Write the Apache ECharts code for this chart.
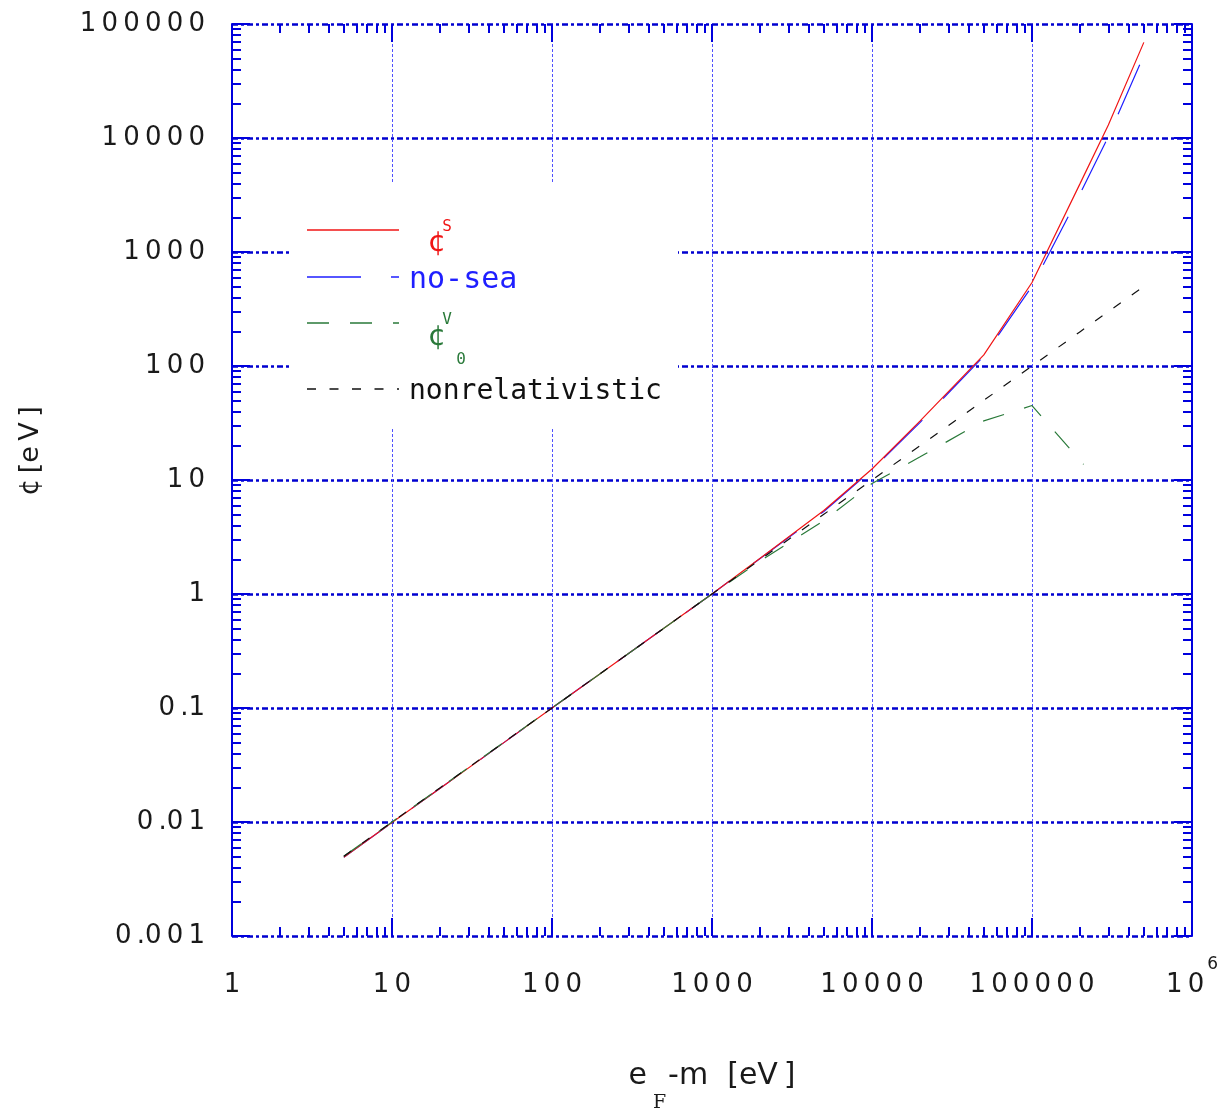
<!DOCTYPE html>
<html>
<head>
<meta charset="utf-8">
<script src="https://cdn.jsdelivr.net/npm/echarts@6/dist/echarts.min.js"></script>
<style>
html,body{margin:0;padding:0;background:#fff}
#chart{width:1229px;height:1113px}
</style>
</head>
<body>
<div id="chart"></div>
<script>
// Kinetic energy above the mass, e_F - m [eV]
const energy = [5, 10, 20, 50, 100, 200, 500, 1000, 2000, 5000, 10000, 20000, 50000, 100000, 200000, 300000, 500000];
// scalar self-energy
const sigmaS = [0.0049, 0.0099, 0.0198, 0.0497, 0.1, 0.2, 0.5, 1.0, 2.06, 5.4, 12.5, 33, 125, 540, 4000, 13000, 69000];
// no-sea approximation
const noSea = [0.0049, 0.0099, 0.0198, 0.0497, 0.1, 0.2, 0.5, 1.0, 2.05, 5.3, 12.3, 32, 122, 500, 3250, 10300, 53000];
// vector self-energy (time component)
const energyV = [5, 10, 20, 50, 100, 200, 500, 1000, 2000, 5000, 10000, 20000, 50000, 100000, 210000];
const sigmaV0 = [0.005, 0.01, 0.02, 0.05, 0.1, 0.2, 0.5, 1.0, 1.95, 4.4, 9.3, 16, 33, 45, 13.7];
// nonrelativistic result
const nonRel = [0.005, 0.01, 0.02, 0.05, 0.1, 0.2, 0.5, 1, 2, 5, 10, 20, 50, 100, 200, 300, 500];

// axis decades
const xTicks = [1, 10, 100, 1000, 10000, 100000, 1000000];
const yTicks = [0.001, 0.01, 0.1, 1, 10, 100, 1000, 10000, 100000];

// 2..9 subdivisions of each decade
function minorTicks(decades) {
  const out = [];
  for (let i = 0; i < decades.length - 1; i++) {
    for (let k = 2; k <= 9; k++) out.push(Number((decades[i] * k).toPrecision(6)));
  }
  return out;
}
const xMinor = minorTicks(xTicks);
const yMinor = minorTicks(yTicks);

const TS = '\u2009';
function spaced(v) {
  const s = String(Number(Number(v).toPrecision(6)));
  return s.split('').join(TS).replace('.' + TS, '.');
}

const BLUE_AX = '#0000dd';
const labelFont = 'DejaVu Sans';
const RED = '#f01515', BLUE = '#1f1fff', GREEN = '#2a7a3a', BLACK = '#111111';

function tickAxis(pos, min, max, values, len, extra) {
  return Object.assign({
    type: 'log', logBase: 10, min: min, max: max, position: pos, gridIndex: 0,
    axisLine: { show: false, onZero: false },
    axisTick: { show: true, inside: true, length: len, customValues: values,
      lineStyle: { color: BLUE_AX, width: 2 } },
    axisLabel: { show: false },
    splitLine: { show: false }
  }, extra || {});
}

const chart = echarts.init(document.getElementById('chart'));
chart.setOption({
  backgroundColor: '#fff',
  animation: false,
  grid: { left: 232, top: 24, width: 960, height: 912, containLabel: false, outerBoundsMode: 'none' },
  xAxis: [
    tickAxis('bottom', 1, 1e6, xTicks, 18, {
      axisLabel: {
        show: true, customValues: xTicks, margin: 20,
        color: '#1a1a1a', fontFamily: labelFont, fontSize: 26,
        formatter: function (v) {
          const n = Number(Number(v).toPrecision(6));
          if (n === 1e6) return '{n|1' + TS + '0}{s|6}';
          return '{n|' + spaced(n) + '}';
        },
        rich: {
          n: { fontFamily: labelFont, fontSize: 26, lineHeight: 58, color: '#1a1a1a' },
          s: { fontFamily: labelFont, fontSize: 17, lineHeight: 18, verticalAlign: 'top',
               padding: [0, 0, 40, 3], color: '#1a1a1a' }
        }
      },
      splitLine: { show: true, lineStyle: { color: '#5050ff', width: 1, type: [3, 2] } },
      name: '{a|e}{f|F}{a|-m' + '  ' + '[eV' + TS + ']}',
      nameLocation: 'middle', nameGap: 125,
      nameTextStyle: {
        rich: {
          a: { fontFamily: labelFont, fontSize: 30, lineHeight: 36, verticalAlign: 'top', color: '#1a1a1a' },
          f: { fontFamily: 'DejaVu Serif', fontSize: 19, lineHeight: 84, verticalAlign: 'middle',
               padding: [0, 2, 0, 6], color: '#1a1a1a' }
        }
      }
    }),
    tickAxis('bottom', 1, 1e6, xMinor, 9),
    tickAxis('top', 1, 1e6, xTicks, 18),
    tickAxis('top', 1, 1e6, xMinor, 9)
  ],
  yAxis: [
    tickAxis('left', 0.001, 1e5, yTicks, 18, {
      axisLine: { show: true, onZero: false, lineStyle: { color: BLUE_AX, width: 2 } },
      axisLabel: {
        show: true, customValues: yTicks, margin: 27,
        color: '#1a1a1a', fontFamily: labelFont, fontSize: 26,
        formatter: function (v) { return spaced(v); }
      },
      splitLine: { show: true, lineStyle: { color: '#0000d0', width: 2.5, type: [6, 3, 3, 3] } },
      name: '\u00a2' + TS + '[e' + TS + 'V' + TS + ']',
      nameLocation: 'middle', nameRotate: 90, nameGap: 188,
      nameTextStyle: { fontFamily: labelFont, fontSize: 27, color: '#1a1a1a', padding: [0, 0, 0, 58] }
    }),
    tickAxis('left', 0.001, 1e5, yMinor, 9),
    tickAxis('right', 0.001, 1e5, yTicks, 18, {
      axisLine: { show: true, onZero: false, lineStyle: { color: BLUE_AX, width: 2 } }
    }),
    tickAxis('right', 0.001, 1e5, yMinor, 9)
  ],
  series: [
    { name: 'no-sea', type: 'line', symbol: 'none', showSymbol: false, z: 2,
      data: energy.map((e, i) => [e, noSea[i]]),
      lineStyle: { color: BLUE, width: 1.2, type: [54, 30] } },
    { name: '\u00a2S', type: 'line', symbol: 'none', showSymbol: false, z: 3,
      data: energy.map((e, i) => [e, sigmaS[i]]),
      lineStyle: { color: RED, width: 1.2 } },
    { name: '\u00a2V0', type: 'line', symbol: 'none', showSymbol: false, z: 4,
      data: energyV.map((e, i) => [e, sigmaV0[i]]),
      lineStyle: { color: GREEN, width: 1.2, type: [22, 21] } },
    { name: 'nonrelativistic', type: 'line', symbol: 'none', showSymbol: false, z: 5,
      data: energy.map((e, i) => [e, nonRel[i]]),
      lineStyle: { color: BLACK, width: 1.2, type: [9, 13.5] } }
  ],
  // key box
  graphic: [
    { type: 'rect', z: 50, shape: { x: 290, y: 183, width: 388, height: 245 }, style: { fill: '#ffffff' } },
    { type: 'polyline', z: 51, shape: { points: [[307, 230], [399, 230]] }, style: { stroke: RED, fill: null, lineWidth: 1.5 } },
    { type: 'text', z: 51, x: 437, y: 243, style: { text: '\u00a2', font: '29px "DejaVu Sans"', fill: RED, align: 'center', verticalAlign: 'middle' } },
    { type: 'text', z: 51, x: 447, y: 227, style: { text: 'S', font: '16px "DejaVu Sans Mono"', fill: RED, align: 'center', verticalAlign: 'middle' } },
    { type: 'polyline', z: 51, shape: { points: [[307, 277], [399, 277]] }, style: { stroke: BLUE, fill: null, lineWidth: 1.5, lineDash: [54, 30] } },
    { type: 'text', z: 51, x: 409, y: 280, style: { text: 'no-sea', font: '30px "DejaVu Sans Mono"', fill: BLUE, align: 'left', verticalAlign: 'middle' } },
    { type: 'polyline', z: 51, shape: { points: [[307, 323], [399, 323]] }, style: { stroke: GREEN, fill: null, lineWidth: 1.5, lineDash: [22, 21] } },
    { type: 'text', z: 51, x: 437, y: 337, style: { text: '\u00a2', font: '29px "DejaVu Sans"', fill: GREEN, align: 'center', verticalAlign: 'middle' } },
    { type: 'text', z: 51, x: 447, y: 320, style: { text: 'V', font: '16px "DejaVu Sans Mono"', fill: GREEN, align: 'center', verticalAlign: 'middle' } },
    { type: 'text', z: 51, x: 461, y: 360, style: { text: '0', font: '16px "DejaVu Sans Mono"', fill: GREEN, align: 'center', verticalAlign: 'middle' } },
    { type: 'polyline', z: 51, shape: { points: [[307, 389], [399, 389]] }, style: { stroke: BLACK, fill: null, lineWidth: 1.5, lineDash: [9, 13.5] } },
    { type: 'text', z: 51, x: 409, y: 392, style: { text: 'nonrelativistic', font: '28px "DejaVu Sans Mono"', fill: BLACK, align: 'left', verticalAlign: 'middle' } }
  ]
});
</script>
</body>
</html>
